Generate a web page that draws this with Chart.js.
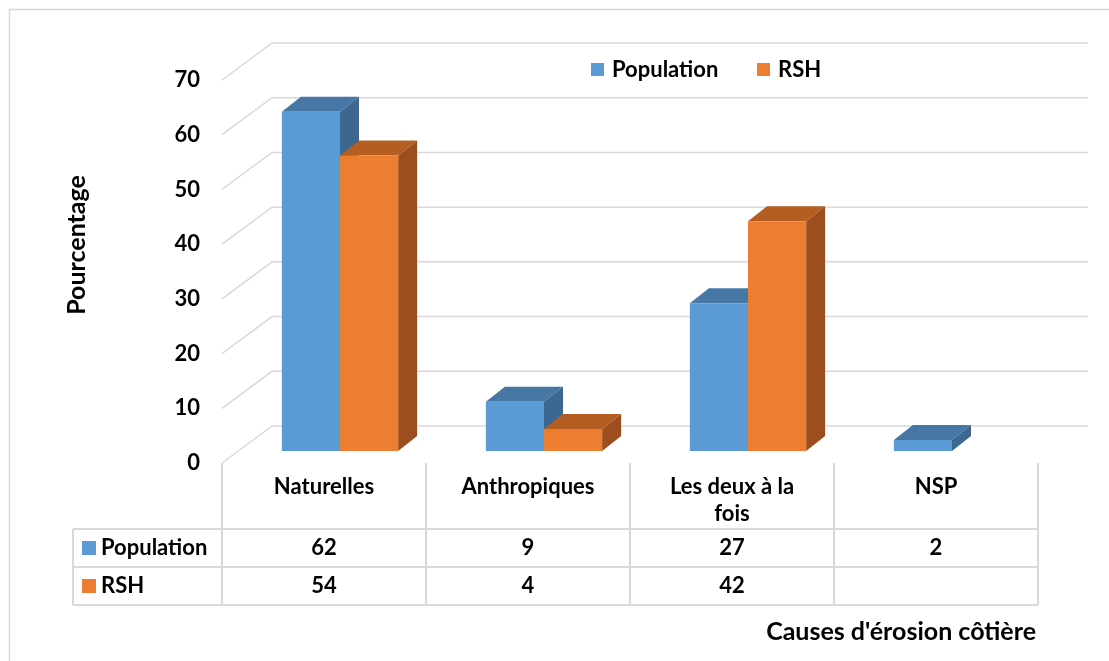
<!DOCTYPE html>
<html>
<head>
<meta charset="utf-8">
<script src="https://cdn.jsdelivr.net/npm/chart.js@4.4.0/dist/chart.umd.min.js"></script>
<style>
  html, body { margin: 0; padding: 0; background: #fff; }
  #wrap { width: 1109px; height: 661px; position: relative; }
</style>
</head>
<body>
<div id="wrap"><canvas id="chart"></canvas></div>
<script>
const categories = ['Naturelles', 'Anthropiques', ['Les deux à la', 'fois'], 'NSP'];
const populationValues = [62, 9, 27, 2];
const rshValues = [54, 4, 42, null];
const yTicks = [0, 10, 20, 30, 40, 50, 60, 70];
const seriesNames = ['Population', 'RSH'];

const FONT = 'Lato, "Open Sans", sans-serif';
const GRID = '#D9D9D9';
// front face / top face / side face
const faces = [
    { front: '#5B9BD5', top: '#4677A5', side: '#3B6791' },
    { front: '#ED7D31', top: '#B55E22', side: '#9C4E1E' }
];

// 3d offsets
const FLOOR_DX = 50, FLOOR_DY = -37;   // whole depth of the floor
const FRONT_DX = 16, FRONT_DY = -12;   // floor front -> bar front
const BAR_DX = 19, BAR_DY = -15;       // bar depth

const threeD = {
    id: 'threeD',
    beforeDatasetsDraw(chart) {
        const ctx = chart.ctx;
        const area = chart.chartArea;
        const y = chart.scales.y;
        const left = area.left - FRONT_DX;
        const right = area.right - FRONT_DX;

        ctx.save();
        ctx.strokeStyle = GRID;
        ctx.lineWidth = 1.5;
        yTicks.forEach(v => {
            const yf = y.getPixelForValue(v) - FRONT_DY;
            ctx.beginPath();
            ctx.moveTo(left, yf);
            ctx.lineTo(left + FLOOR_DX, yf + FLOOR_DY);
            ctx.lineTo(right + FLOOR_DX, yf + FLOOR_DY);
            ctx.stroke();
        });

        // tops and sides, dataset order per category
        for (let i = 0; i < categories.length; i++) {
            chart.data.datasets.forEach((ds, di) => {
                const bar = chart.getDatasetMeta(di).data[i];
                if (ds.data[i] == null || !bar) return;
                const x1 = bar.x - bar.width / 2;
                const x2 = bar.x + bar.width / 2;
                const top = bar.y, base = bar.base;
                ctx.fillStyle = faces[di].top;
                ctx.beginPath();
                ctx.moveTo(x1, top);
                ctx.lineTo(x2, top);
                ctx.lineTo(x2 + BAR_DX, top + BAR_DY);
                ctx.lineTo(x1 + BAR_DX, top + BAR_DY);
                ctx.closePath();
                ctx.fill();
                ctx.fillStyle = faces[di].side;
                ctx.beginPath();
                ctx.moveTo(x2, top);
                ctx.lineTo(x2 + BAR_DX, top + BAR_DY);
                ctx.lineTo(x2 + BAR_DX, base + BAR_DY);
                ctx.lineTo(x2, base);
                ctx.closePath();
                ctx.fill();
            });
        }
        ctx.restore();
    },
    afterDraw(chart) {
        const ctx = chart.ctx;
        const area = chart.chartArea;
        const x = chart.scales.x;
        const y = chart.scales.y;
        const left = area.left - FRONT_DX;
        const colW = (area.right - area.left) / categories.length;
        const floorY = y.getPixelForValue(0) - FRONT_DY;
        const rowTop = floorY + 66, rowH = 38;
        const tableLeft = 73;

        ctx.save();
        ctx.fillStyle = '#000';
        ctx.font = 'bold 22px ' + FONT;
        ctx.textBaseline = 'middle';

        // y tick labels
        ctx.textAlign = 'right';
        yTicks.forEach(v => ctx.fillText(String(v), left - 22, y.getPixelForValue(v) - FRONT_DY));

        // table lines
        ctx.strokeStyle = GRID;
        ctx.lineWidth = 2;
        ctx.beginPath();
        for (let i = 0; i <= categories.length; i++) {
            const lx = left + colW * i;
            ctx.moveTo(lx, floorY);
            ctx.lineTo(lx, rowTop + rowH * 2);
        }
        ctx.moveTo(tableLeft, rowTop);
        ctx.lineTo(tableLeft, rowTop + rowH * 2);
        for (let r = 0; r <= 2; r++) {
            ctx.moveTo(tableLeft, rowTop + rowH * r);
            ctx.lineTo(left + colW * categories.length, rowTop + rowH * r);
        }
        ctx.stroke();

        // category labels and values
        ctx.textAlign = 'center';
        categories.forEach((c, i) => {
            const cx = x.getPixelForValue(i) - FRONT_DX;
            const lines = Array.isArray(c) ? c : [c];
            lines.forEach((l, k) => ctx.fillText(l, cx, floorY + 24 + k * 27));
            [populationValues, rshValues].forEach((vals, r) => {
                if (vals[i] != null) ctx.fillText(String(vals[i]), cx, rowTop + rowH * r + 19);
            });
        });

        // row headers
        ctx.textAlign = 'left';
        seriesNames.forEach((n, r) => {
            const ry = rowTop + rowH * r + 19;
            ctx.fillStyle = faces[r].front;
            ctx.fillRect(82, ry - 7, 14, 14);
            ctx.fillStyle = '#000';
            ctx.fillText(n, 101, ry);
        });

        // legend
        const legendX = [591, 757];
        seriesNames.forEach((n, r) => {
            ctx.fillStyle = faces[r].front;
            ctx.fillRect(legendX[r], 63, 13, 13);
            ctx.fillStyle = '#000';
            ctx.fillText(n, legendX[r] + 21, 70);
        });

        // axis titles
        ctx.font = 'bold 25px ' + FONT;
        ctx.textAlign = 'right';
        ctx.fillText("Causes d'érosion côtière", 1036, 632);
        ctx.save();
        ctx.translate(77, 245);
        ctx.rotate(-Math.PI / 2);
        ctx.textAlign = 'center';
        ctx.fillText('Pourcentage', 0, 0);
        ctx.restore();

        // outer frame
        ctx.strokeStyle = GRID;
        ctx.lineWidth = 1.5;
        ctx.strokeRect(9.5, 9.5, 1300, 1000);
        ctx.restore();
    }
};

new Chart(document.getElementById('chart'), {
    type: 'bar',
    data: {
        labels: categories,
        datasets: [
            { label: seriesNames[0], data: populationValues, backgroundColor: faces[0].front },
            { label: seriesNames[1], data: rshValues, backgroundColor: faces[1].front }
        ]
    },
    options: {
        responsive: true,
        maintainAspectRatio: false,
        animation: false,
        layout: { padding: { left: 238, right: 55, top: 68, bottom: 210 } },
        datasets: { bar: { barPercentage: 1, categoryPercentage: 0.57 } },
        plugins: { legend: { display: false }, tooltip: { enabled: false } },
        scales: {
            x: { display: false },
            y: { display: false, min: 0, max: 70 }
        }
    },
    plugins: [threeD]
});
</script>
</body>
</html>
